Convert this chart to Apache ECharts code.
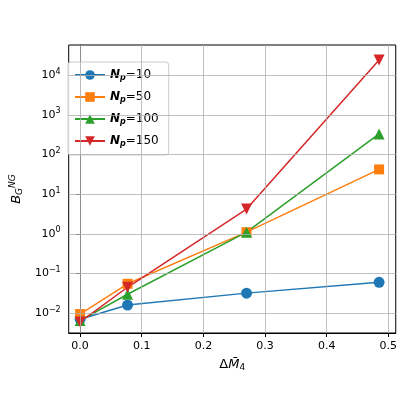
<!DOCTYPE html>
<html><head><meta charset="utf-8">
<script src="https://cdn.jsdelivr.net/npm/echarts@6/dist/echarts.min.js"></script>
<style>html,body{margin:0;padding:0;background:#fff}#c{width:400px;height:400px}</style>
</head><body><div id="c"></div>
<script>
const xVals = [0, 0.077, 0.27, 0.485];
const seriesNames = ['10', '50', '100', '150'];
const np10 = [0.007, 0.016, 0.032, 0.06];
const np50 = [0.0095, 0.055, 1.1, 42];
const np100 = [0.0065, 0.03, 1.1, 330];
const np150 = [0.006, 0.045, 4.2, 24000];
const xTicks = [0, 0.1, 0.2, 0.3, 0.4, 0.5];
const yTickExps = [-2, -1, 0, 1, 2, 3, 4];

const colors = ['#1f77b4', '#ff7f0e', '#2ca02c', '#d62728'];
const symbols = ['circle', 'rect', 'triangle', 'path://M0,0 L10,0 L5,9 Z'];
const allData = [np10, np50, np100, np150];
const font = 'DejaVu Sans';

const series = allData.map((d, i) => ({
  name: 'N' + seriesNames[i],
  type: 'line',
  data: d.map((v, j) => [xVals[j], Math.log10(v)]),
  symbol: symbols[i],
  symbolSize: i === 1 ? 10 : 11,
  itemStyle: {color: colors[i]},
  lineStyle: {color: colors[i], width: 1.5},
  z: 3
}));
series.push({
  type: 'line', data: [], silent: true,
  markLine: {
    symbol: 'none', silent: true, label: {show: false},
    lineStyle: {color: '#b0b0b0', width: 0.8, type: 'solid'},
    data: xTicks.map(x => ({xAxis: x})).concat(yTickExps.map(e => ({yAxis: e})))
  }
});

const chart = echarts.init(document.getElementById('c'));
chart.setOption({
  animation: false,
  textStyle: {fontFamily: font},
  grid: {left: 65, right: 3, top: 45, bottom: 67, show: true, borderColor: '#000', borderWidth: 1, backgroundColor: 'transparent'},
  xAxis: {
    type: 'value', min: -0.0185, max: 0.512,
    axisLine: {onZero: false, lineStyle: {color: '#000'}},
    splitLine: {show: false},
    axisTick: {customValues: xTicks, length: 4, inside: false, lineStyle: {color: '#000'}},
    axisLabel: {customValues: xTicks, color: '#000', fontSize: 11, fontFamily: font,
      formatter: v => v.toFixed(1)},
    name: 'Δ{i|M̄}{s|4}', nameLocation: 'middle', nameGap: 24,
    nameTextStyle: {color: '#000', fontSize: 13, fontFamily: font,
      rich: {i: {fontStyle: 'italic', fontSize: 13, fontFamily: font}, s: {fontSize: 9, verticalAlign: 'bottom', padding: [6,0,0,0], fontFamily: font}}}
  },
  yAxis: {
    type: 'value', min: -2.5, max: 4.76,
    axisLine: {show: true, lineStyle: {color: '#000'}},
    splitLine: {show: false},
    axisTick: {customValues: yTickExps, length: 4, lineStyle: {color: '#000'}},
    axisLabel: {customValues: yTickExps, color: '#000', fontSize: 11, fontFamily: font,
      formatter: v => '10{s|' + String(Math.round(v)).replace('-', '−') + '}',
      rich: {s: {fontSize: 8, verticalAlign: 'top', padding: [0,0,7,0], fontFamily: font}}},
    name: '{i|B}{s|G}{p|NG}', nameLocation: 'middle', nameGap: 42,
    nameTextStyle: {color: '#000', fontSize: 13, fontFamily: font,
      rich: {i: {fontStyle: 'italic', fontSize: 13, fontFamily: font},
             s: {fontStyle: 'italic', fontSize: 9, padding: [6,0,0,0], fontFamily: font},
             p: {fontStyle: 'italic', fontSize: 9, padding: [0,0,8,0], fontFamily: font}}}
  },
  legend: {
    left: 68, top: 62, orient: 'vertical', itemGap: 9,
    itemWidth: 30, itemHeight: 12,
    backgroundColor: 'rgba(255,255,255,0.85)', borderColor: '#ccc', borderWidth: 1, borderRadius: 3,
    padding: [7, 10, 7, 6],
    data: series.slice(0, 4).map(s => s.name),
    formatter: n => '{i|N}{s|p}=' + n.slice(1),
    textStyle: {fontSize: 12, color: '#000', fontFamily: font,
      rich: {i: {fontStyle: 'italic', fontWeight: 'bold', fontSize: 12, fontFamily: font},
             s: {fontStyle: 'italic', fontWeight: 'bold', fontSize: 8, padding: [6,0,0,0], fontFamily: font}}}
  },
  series: series
});
</script></body></html>
